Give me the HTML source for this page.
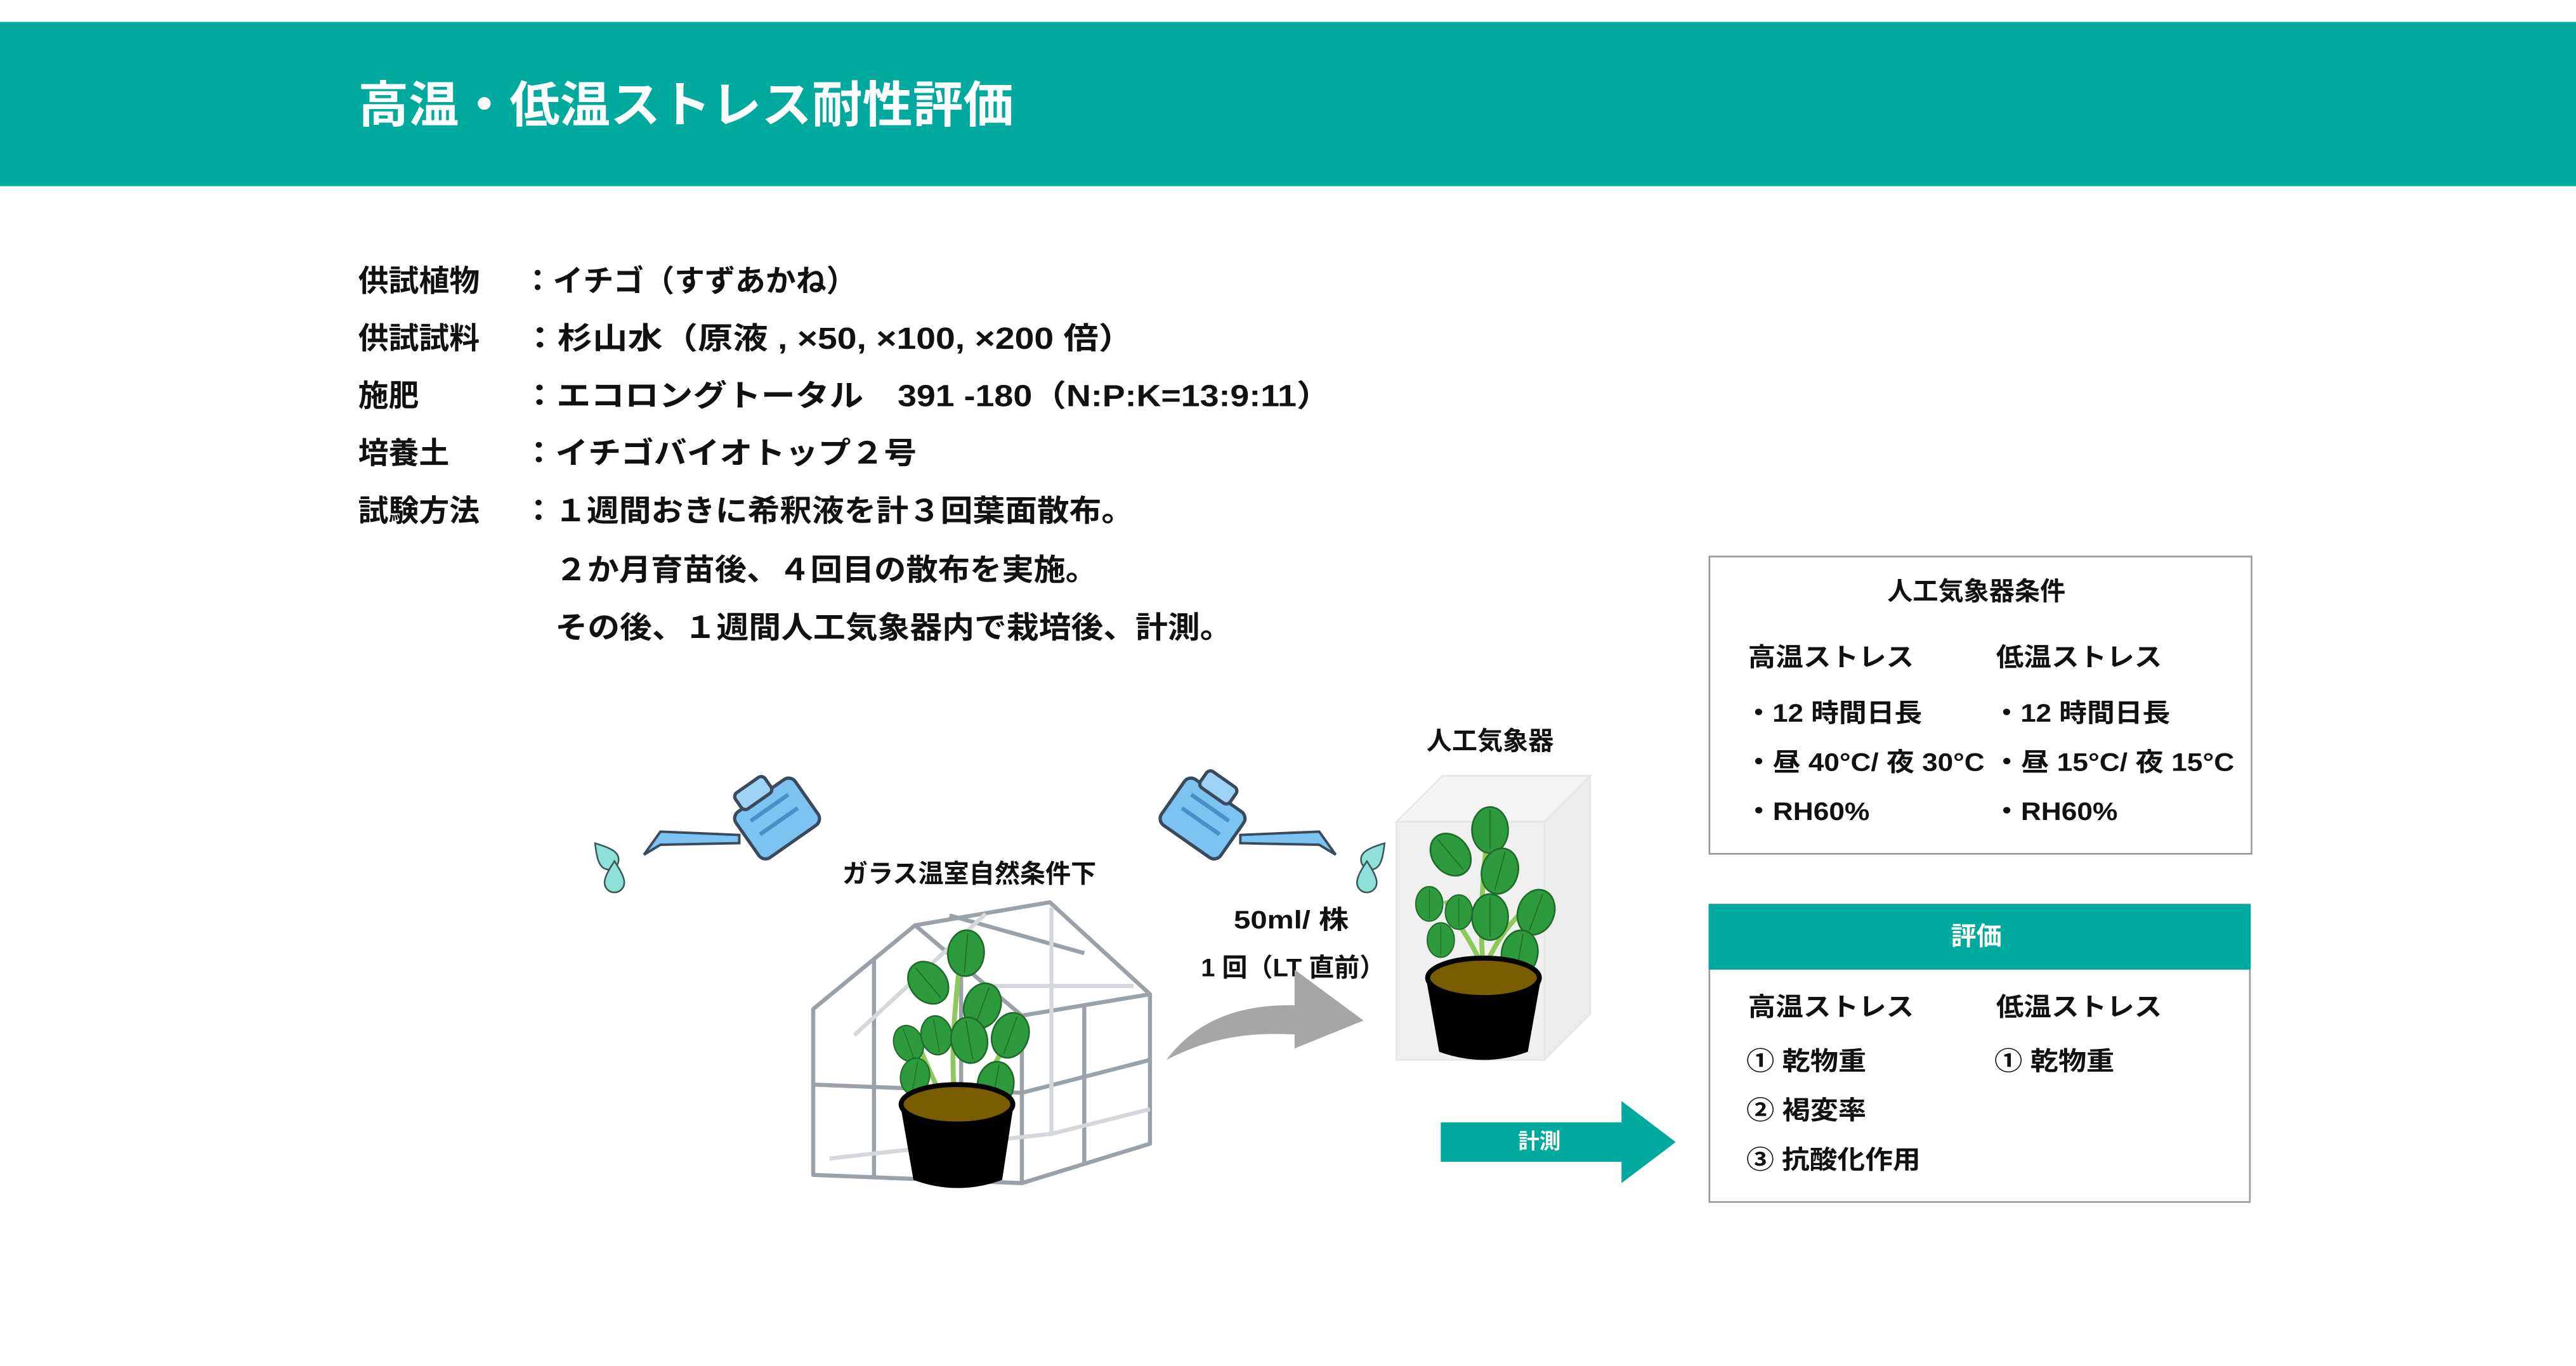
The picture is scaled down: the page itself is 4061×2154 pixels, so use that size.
<!DOCTYPE html>
<html><head><meta charset="utf-8"><style>
html,body{margin:0;padding:0;background:#fff;}
svg{display:block;}
text{font-family:"Liberation Sans","Noto Sans CJK JP",sans-serif;font-weight:bold;fill:#111;}
</style></head><body>
<svg width="4061" height="2154" viewBox="0 0 1568 831" xmlns="http://www.w3.org/2000/svg">
<defs>
<g id="leaf"><ellipse cx="0" cy="0" rx="11" ry="14" fill="#2e9a3e" stroke="#1f6b2a" stroke-width="1"/><path d="M0,-12 L0,12" stroke="#1f6b2a" stroke-width="0.6"/></g>
<g id="can">
<rect x="-22" y="-17" width="44" height="34" rx="5" fill="#7cc3f2" stroke="#3a4a5a" stroke-width="2"/>
<rect x="-14" y="-27" width="22" height="12" rx="3" fill="#9fd3f5" stroke="#3a4a5a" stroke-width="2"/>
<path d="M-14,-8 L14,-8 M-14,2 L14,2" stroke="#4a90c8" stroke-width="2.5"/>
</g>
<path id="drop" d="M0,-9 C4,-3 6,1 6,4 A6,6 0 0 1 -6,4 C-6,1 -4,-3 0,-9Z" fill="#8ee0d8" stroke="#3a5a5a" stroke-width="1"/>
</defs>
<rect x="0" y="13" width="1568" height="100" fill="#00A99D"/>
<text x="218" y="74" font-size="30" textLength="399" lengthAdjust="spacingAndGlyphs" style="fill:#fff">高温・低温ストレス耐性評価</text>

<g font-size="18.5">
<text x="218" y="177">供試植物</text><text x="318" y="177">：イチゴ（すずあかね）</text>
<text x="218" y="212">供試試料</text><text x="318" y="212" textLength="372" lengthAdjust="spacingAndGlyphs">：杉山水（原液 , ×50, ×100, ×200 倍）</text>
<text x="218" y="247">施肥</text><text x="318" y="247" textLength="492" lengthAdjust="spacingAndGlyphs">：エコロングトータル　391 -180（N:P:K=13:9:11）</text>
<text x="218" y="282">培養土</text><text x="318" y="282" textLength="240" lengthAdjust="spacingAndGlyphs">：イチゴバイオトップ２号</text>
<text x="218" y="317">試験方法</text><text x="318" y="317" textLength="372" lengthAdjust="spacingAndGlyphs">：１週間おきに希釈液を計３回葉面散布。</text>
<text x="338" y="353" textLength="330" lengthAdjust="spacingAndGlyphs">２か月育苗後、４回目の散布を実施。</text>
<text x="338" y="388" textLength="412" lengthAdjust="spacingAndGlyphs">その後、１週間人工気象器内で栽培後、計測。</text>
</g>

<!-- box1 -->
<rect x="1040.5" y="338.5" width="330" height="181" fill="#fff" stroke="#999" stroke-width="1"/>
<g font-size="15.5">
<text x="1203" y="365" text-anchor="middle">人工気象器条件</text>
<text x="1064" y="405" textLength="101" lengthAdjust="spacingAndGlyphs">高温ストレス</text><text x="1215" y="405" textLength="101" lengthAdjust="spacingAndGlyphs">低温ストレス</text>
<text x="1062" y="439" textLength="108" lengthAdjust="spacingAndGlyphs">・12 時間日長</text><text x="1213" y="439" textLength="108" lengthAdjust="spacingAndGlyphs">・12 時間日長</text>
<text x="1062" y="469" textLength="146" lengthAdjust="spacingAndGlyphs">・昼 40°C/ 夜 30°C</text><text x="1213" y="469" textLength="147" lengthAdjust="spacingAndGlyphs">・昼 15°C/ 夜 15°C</text>
<text x="1062" y="499" textLength="76" lengthAdjust="spacingAndGlyphs">・RH60%</text><text x="1213" y="499" textLength="76" lengthAdjust="spacingAndGlyphs">・RH60%</text>
</g>
<!-- box2 -->
<rect x="1040.5" y="550.5" width="329" height="181" fill="#fff" stroke="#999" stroke-width="1"/>
<rect x="1040" y="550" width="330" height="40" fill="#00A99D"/>
<g font-size="15.5">
<text x="1203" y="575" text-anchor="middle" style="fill:#fff">評価</text>
<text x="1064" y="618" textLength="101" lengthAdjust="spacingAndGlyphs">高温ストレス</text><text x="1215" y="618" textLength="101" lengthAdjust="spacingAndGlyphs">低温ストレス</text>
<text x="1063" y="651" textLength="73" lengthAdjust="spacingAndGlyphs">① 乾物重</text><text x="1214" y="651" textLength="73" lengthAdjust="spacingAndGlyphs">① 乾物重</text>
<text x="1063" y="681" textLength="73" lengthAdjust="spacingAndGlyphs">② 褐変率</text>
<text x="1063" y="711" textLength="106" lengthAdjust="spacingAndGlyphs">③ 抗酸化作用</text>
</g>

<!-- labels -->
<g font-size="15.5">
<text x="590" y="537" text-anchor="middle">ガラス温室自然条件下</text>
<text x="907" y="456" text-anchor="middle">人工気象器</text>
<text x="751" y="565" textLength="70" lengthAdjust="spacingAndGlyphs">50ml/ 株</text>
<text x="731" y="594" textLength="112" lengthAdjust="spacingAndGlyphs">1 回（LT 直前）</text>
</g>

<!-- watering cans -->
<g transform="translate(473,498) rotate(-35)"><use href="#can"/></g>
<path d="M450,513 L402,514 L392,520 L402,506 L450,508Z" fill="#7cc3f2" stroke="#3a4a5a" stroke-width="1.5"/>
<use href="#drop" transform="translate(368,520) rotate(-40)"/>
<use href="#drop" transform="translate(374,533)"/>
<g transform="translate(732,498) rotate(35)"><use href="#can"/></g>
<path d="M755,513 L803,514 L813,520 L803,506 L755,508Z" fill="#7cc3f2" stroke="#3a4a5a" stroke-width="1.5"/>
<use href="#drop" transform="translate(837,520) rotate(40)"/>
<use href="#drop" transform="translate(832,533)"/>

<!-- greenhouse -->
<g fill="none" stroke="#9aa1a8" stroke-width="2.5" stroke-linejoin="round">
<path d="M495,715 L495,614 L557,563 L622,618 L622,720 Z"/>
<path d="M557,563 L639,549 L700,605 L700,696 L622,720"/>
<path d="M622,618 L700,605"/>
<path d="M495,660 L622,665 L700,645"/>
<path d="M532,584 L532,717 M585,590 L585,718 M660,612 L660,708 M578,557 L660,580"/>
</g>
<g fill="none" stroke="#d4d8dc" stroke-width="2.5">
<path d="M520,630 L600,556 M640,552 L640,690 L700,675 M505,705 L640,690 M600,600 L690,600"/>
</g>
<!-- plant 1 -->
<g>
<path d="M583,690 C578,650 580,620 585,580 M583,690 C570,660 560,640 555,625 M583,690 C595,665 605,650 612,635" stroke="#8cc85a" stroke-width="3" fill="none"/>
<use href="#leaf" transform="translate(588,580) rotate(5)"/>
<use href="#leaf" transform="translate(565,598) rotate(-40)"/>
<use href="#leaf" transform="translate(598,612) rotate(20)"/>
<use href="#leaf" transform="translate(553,635) rotate(-20) scale(0.8)"/>
<use href="#leaf" transform="translate(557,655) rotate(10) scale(0.8)"/>
<use href="#leaf" transform="translate(570,630) rotate(-10) scale(0.85)"/>
<use href="#leaf" transform="translate(590,633) rotate(-10)"/>
<use href="#leaf" transform="translate(615,630) rotate(20)"/>
<use href="#leaf" transform="translate(606,660) rotate(10)"/>
<path d="M548,672 L617,672 L610,718 Q583,728 556,718 Z" fill="#000"/>
<ellipse cx="582.5" cy="672" rx="34" ry="12" fill="#7a5c00" stroke="#000" stroke-width="3"/>
</g>

<!-- chamber -->
<path d="M850,500 L878,472 L968,472 L940,500 Z" fill="#f4f4f4" stroke="#e6e6e6"/>
<path d="M940,500 L968,472 L968,617 L940,645 Z" fill="#ececec" stroke="#e6e6e6"/>
<rect x="850" y="500" width="90" height="145" fill="#f0f0f0" stroke="#e6e6e6"/>
<g>
<path d="M903,590 C900,560 903,530 906,500 M903,590 C895,570 885,560 880,548 M903,590 C912,570 920,560 932,550" stroke="#8cc85a" stroke-width="3" fill="none"/>
<use href="#leaf" transform="translate(907,505)"/>
<use href="#leaf" transform="translate(883,520) rotate(-40)"/>
<use href="#leaf" transform="translate(913,530) rotate(15)"/>
<use href="#leaf" transform="translate(870,550) scale(0.75)"/>
<use href="#leaf" transform="translate(888,555) scale(0.75)"/>
<use href="#leaf" transform="translate(877,572) scale(0.75)"/>
<use href="#leaf" transform="translate(907,558)"/>
<use href="#leaf" transform="translate(935,555) rotate(20)"/>
<use href="#leaf" transform="translate(925,580) rotate(10)"/>
<path d="M868,595 L938,595 L930,640 Q903,650 876,640 Z" fill="#000"/>
<ellipse cx="903" cy="595" rx="34" ry="12" fill="#7a5c00" stroke="#000" stroke-width="3"/>
</g>

<!-- gray curved arrow -->
<path d="M710,645 C730,618 760,610 795,612 L795,630 C760,627 735,632 710,645Z" fill="#a6a6a6"/>
<path d="M788,590 L830,621 L788,638 Z" fill="#a6a6a6"/>

<!-- teal arrow -->
<path d="M877,683 L987,683 L987,670 L1020,695 L987,720 L987,707 L877,707 Z" fill="#00A99D"/>
<text x="937" y="699" text-anchor="middle" font-size="13" style="fill:#fff">計測</text>
</svg>
</body></html>
